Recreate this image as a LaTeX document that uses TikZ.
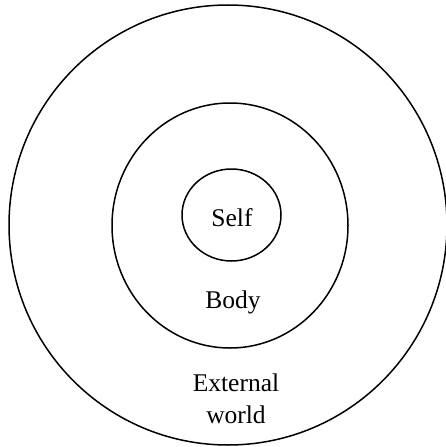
\documentclass[tikz,border=0pt]{standalone}
\usepackage{fontspec}
\setmainfont{Liberation Serif}
\usepackage{tikz}

\begin{document}
\begin{tikzpicture}[x=1pt, y=-1pt,
    ring/.style={line width=1.5pt, black},
    lbl/.style={font=\fontsize{25.5}{32}\selectfont, align=center, inner sep=0pt}]
  \useasboundingbox (0, 0) rectangle (445, 447);

  % ----- Concentric spheres -----
  \draw[ring] (228, 225) ellipse [x radius=219, y radius=220];
  \draw[ring] (230, 225.5) ellipse [x radius=118, y radius=122.5];
  \draw[ring] (231.5, 215) ellipse [x radius=49.5, y radius=46];

  % ----- Labels -----
  \node[lbl] (self) at (232, 218) {Self};
  \node[lbl] (body) at (233, 302) {Body};
  \node[lbl] (world) at (236, 399) {External\\world};
\end{tikzpicture}
\end{document}
